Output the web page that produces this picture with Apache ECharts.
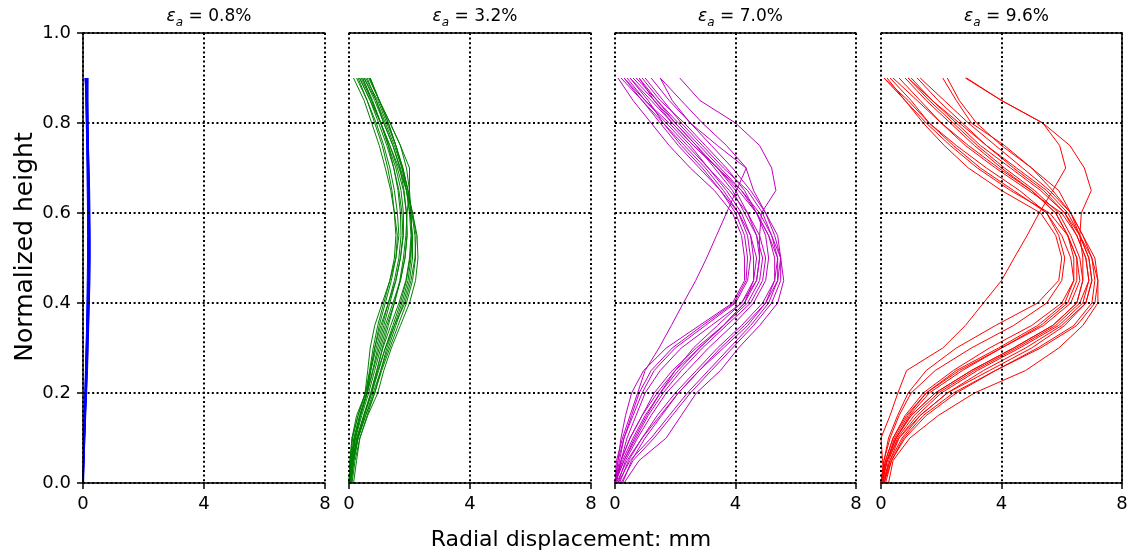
<!DOCTYPE html>
<html>
<head>
<meta charset="utf-8">
<script src="https://cdn.jsdelivr.net/npm/echarts@6/dist/echarts.min.js"></script>
<style>
html,body{margin:0;padding:0;background:#fff;}
#chart{width:1133px;height:557px;}
</style>
</head>
<body>
<div id="chart"></div>
<script>
// Normalized heights at which each displacement profile is sampled
const heights = [0,0.05,0.1,0.15,0.2,0.25,0.3,0.35,0.4,0.45,0.5,0.55,0.6,0.65,0.7,0.75,0.8,0.85,0.9];

const panelStrains = ['0.8%','3.2%','7.0%','9.6%'];
const xTickValues = [0,4,8];
const yTickValues = [0,0.2,0.4,0.6,0.8,1.0];

// Radial displacement (mm) profiles, one row per curve, values at each height
const curves08 = [
  [0,0.02,0.05,0.08,0.1,0.12,0.14,0.16,0.18,0.19,0.2,0.2,0.19,0.18,0.17,0.16,0.14,0.13,0.12],
  [0,0.01,0.03,0.05,0.07,0.09,0.11,0.13,0.15,0.17,0.18,0.18,0.17,0.16,0.15,0.13,0.11,0.1,0.09],
  [0,0.03,0.06,0.09,0.12,0.15,0.17,0.19,0.21,0.23,0.24,0.24,0.23,0.22,0.2,0.18,0.16,0.15,0.14],
  [0,0.02,0.04,0.06,0.08,0.1,0.12,0.14,0.16,0.17,0.18,0.19,0.19,0.18,0.16,0.14,0.12,0.1,0.08],
  [0.02,0.04,0.06,0.08,0.1,0.12,0.14,0.16,0.18,0.2,0.21,0.21,0.2,0.19,0.18,0.17,0.16,0.16,0.15],
  [0,0.01,0.02,0.04,0.06,0.08,0.1,0.12,0.13,0.14,0.15,0.15,0.15,0.14,0.13,0.12,0.11,0.1,0.1],
  [0,0.03,0.05,0.08,0.11,0.14,0.16,0.18,0.2,0.21,0.22,0.22,0.21,0.2,0.19,0.18,0.17,0.16,0.17],
  [0,0.02,0.04,0.07,0.09,0.11,0.13,0.15,0.17,0.19,0.2,0.21,0.21,0.2,0.19,0.17,0.15,0.13,0.11],
  [0.01,0.03,0.05,0.07,0.09,0.11,0.13,0.15,0.17,0.18,0.19,0.2,0.2,0.19,0.18,0.16,0.14,0.12,0.06],
  [0,0.02,0.03,0.05,0.07,0.09,0.11,0.12,0.14,0.16,0.17,0.17,0.17,0.16,0.15,0.14,0.12,0.11,0.1]
];

const curves32 = [
  [0,0.08,0.2,0.38,0.6,0.8,1.0,1.2,1.45,1.7,1.85,1.92,1.9,1.8,1.6,1.35,1.05,0.75,0.45],
  [0.05,0.15,0.3,0.55,0.8,1.05,1.3,1.55,1.8,2.0,2.1,2.1,2.02,1.9,1.7,1.45,1.15,0.9,0.6],
  [0,0.05,0.12,0.3,0.53,0.62,0.7,0.85,1.1,1.35,1.55,1.65,1.6,1.5,1.35,1.15,0.9,0.6,0.3],
  [0.1,0.2,0.36,0.62,0.95,1.15,1.4,1.7,2.0,2.2,2.28,2.25,2.1,1.9,1.65,1.35,1.05,0.7,0.35],
  [0,0.04,0.1,0.25,0.55,0.7,0.85,1.0,1.2,1.4,1.55,1.6,1.5,1.38,1.2,1.0,0.75,0.5,0.15],
  [0.02,0.12,0.28,0.5,0.75,0.95,1.2,1.5,1.85,2.05,2.18,2.22,2.1,1.95,1.75,1.5,1.2,0.9,0.5],
  [0,0.08,0.2,0.38,0.6,0.78,0.95,1.15,1.35,1.55,1.7,1.78,1.75,1.65,1.48,1.25,0.98,0.7,0.35],
  [0.15,0.25,0.36,0.6,0.85,1.05,1.25,1.5,1.75,1.95,2.05,2.08,2.05,2.0,1.9,1.7,1.36,1.0,0.65],
  [0,0.06,0.16,0.35,0.58,0.72,0.85,1.05,1.3,1.55,1.7,1.8,1.8,1.72,1.55,1.3,1.05,0.75,0.4],
  [0.03,0.12,0.26,0.5,0.75,0.98,1.2,1.45,1.7,1.9,2.02,2.08,2.05,1.95,1.78,1.55,1.3,1.0,0.7],
  [0,0.03,0.1,0.3,0.55,0.68,0.8,0.95,1.15,1.35,1.5,1.55,1.5,1.42,1.28,1.1,0.85,0.6,0.25],
  [0.05,0.16,0.3,0.55,0.85,1.08,1.35,1.62,1.9,2.1,2.2,2.18,2.08,1.95,1.78,1.55,1.25,0.95,0.55],
  [0,0.1,0.22,0.42,0.65,0.85,1.05,1.25,1.5,1.7,1.85,1.92,1.9,1.82,1.68,1.45,1.15,0.85,0.5],
  [0.02,0.07,0.18,0.36,0.6,0.72,0.9,1.1,1.3,1.5,1.65,1.72,1.7,1.62,1.48,1.3,1.05,0.78,0.45],
  [0,0.12,0.26,0.48,0.72,0.92,1.12,1.38,1.65,1.88,2.0,2.05,2.0,1.9,1.75,1.55,1.3,1.0,0.68],
  [0.08,0.16,0.3,0.5,0.72,0.92,1.1,1.3,1.5,1.68,1.8,1.88,1.92,2.0,2.0,1.7,1.36,1.0,0.7]
];

const curves70 = [
  [0,0.1,0.2,0.35,0.55,0.95,1.7,2.8,3.9,4.3,4.3,4.2,3.9,3.3,2.5,1.8,1.2,0.6,0.1],
  [0.05,0.2,0.4,0.7,1.0,1.5,2.2,3.2,4.2,4.6,4.7,4.5,4.1,3.5,2.8,2.1,1.5,0.9,0.3],
  [0.3,0.8,1.7,2.2,2.7,3.5,4.1,4.8,5.4,5.6,5.5,5.2,4.9,4.4,3.6,2.9,2.2,1.6,1.0],
  [0.1,0.5,1.2,1.8,2.4,3.1,3.8,4.5,5.1,5.4,5.4,5.1,4.7,4.2,3.5,2.8,2.1,1.4,0.8],
  [0,0.3,0.7,1.1,1.6,2.2,2.9,3.7,4.5,4.9,5.0,4.8,4.4,3.8,3.1,2.4,1.7,1.0,0.4],
  [0.15,0.45,0.9,1.4,2.0,2.7,3.4,4.2,4.9,5.3,5.3,5.1,4.7,4.1,3.4,2.6,1.9,1.2,0.5],
  [0,0.2,0.5,0.9,1.3,1.9,2.7,3.6,4.4,4.8,4.9,4.7,4.3,3.9,3.3,2.7,2.0,1.3,0.6],
  [0.2,0.6,1.3,1.9,2.5,3.2,3.9,4.6,5.2,5.5,5.5,5.3,5.0,4.5,3.9,3.2,2.5,1.8,1.2],
  [0,0.15,0.3,0.6,0.9,1.3,2.0,3.0,4.0,4.4,4.5,4.4,4.1,3.6,3.0,2.3,1.6,0.9,0.2],
  [0.1,0.35,0.75,1.2,1.7,2.4,3.1,3.9,4.6,5.0,5.1,5.0,4.7,4.3,3.7,3.0,2.3,1.5,0.9],
  [0,0.25,0.6,1.0,1.5,2.0,2.6,3.4,4.2,4.7,4.8,4.7,4.4,4.0,3.4,2.7,2.0,1.4,0.7],
  [0.25,0.55,1.0,1.55,2.1,2.8,3.6,4.4,5.0,5.3,5.4,5.2,4.8,4.2,3.4,2.6,1.9,1.3,0.8],
  [0,0.1,0.3,0.55,0.8,1.2,1.9,2.9,3.95,4.35,4.4,4.3,4.0,3.5,2.9,2.2,1.6,1.1,0.5],
  [0.05,0.4,0.9,1.5,2.1,2.8,3.5,4.3,5.0,5.4,5.5,5.4,5.0,4.6,4.35,3.4,2.5,1.9,1.5],
  [0,0.3,0.65,1.05,1.5,2.1,2.8,3.6,4.3,4.6,4.6,4.5,4.2,3.7,3.1,2.5,1.8,1.0,0.3],
  [0,0.2,0.5,0.9,1.4,2.0,2.8,3.6,4.3,4.7,4.8,4.8,4.86,5.34,5.2,4.8,4.0,2.82,2.15],
  [0,0.05,0.25,0.5,0.75,1.0,1.46,1.87,2.27,2.68,3.04,3.37,3.7,4.03,4.36,3.7,2.9,2.2,1.5]
];

const curves96 = [
  [0,0.15,0.4,0.8,1.4,2.4,3.6,5.0,6.0,6.4,6.4,6.2,5.8,5.0,3.9,2.9,2.0,1.2,0.4],
  [0.1,0.3,0.7,1.3,2.2,3.4,4.8,6.0,6.8,7.0,6.9,6.6,6.2,5.5,4.5,3.5,2.6,1.7,0.9],
  [0,0.1,0.3,0.6,1.0,1.8,3.0,4.4,5.5,6.0,6.1,5.9,5.5,4.6,3.5,2.5,1.6,0.9,0.1],
  [0.25,0.4,0.96,1.9,3.1,4.8,5.9,6.7,7.2,7.2,7.0,6.7,6.3,5.6,4.7,3.8,2.9,2.1,1.3],
  [0,0.2,0.5,0.95,1.6,2.7,4.0,5.4,6.3,6.6,6.5,6.2,5.8,5.0,4.0,3.1,2.3,1.5,0.8],
  [0.1,0.35,0.8,1.5,2.5,3.8,5.2,6.4,7.0,7.1,7.0,6.6,6.1,5.3,4.3,3.3,2.5,1.7,1.0],
  [0,0.2,0.45,0.9,1.5,2.5,3.9,5.2,6.1,6.4,6.3,6.0,5.5,4.4,3.3,2.4,1.6,1.0,0.3],
  [0.05,0.3,0.6,1.2,2.0,3.2,4.6,5.9,6.7,6.9,6.8,6.5,6.1,5.4,4.4,3.5,2.7,1.9,1.2],
  [0,0.1,0.25,0.55,0.9,1.5,2.5,3.8,5.2,5.9,6.0,5.8,5.3,4.0,2.9,2.1,1.4,0.8,0.2],
  [0.15,0.35,0.75,1.4,2.4,3.8,5.3,6.5,7.1,7.2,7.1,6.7,6.3,5.7,5.0,4.0,3.17,2.6,2.2],
  [0,0.2,0.5,1.0,1.8,3.0,4.4,5.7,6.5,6.7,6.6,6.3,5.9,5.1,4.1,3.2,2.4,1.6,0.9],
  [0.1,0.25,0.55,1.1,1.9,3.1,4.5,5.8,6.6,6.9,6.8,6.5,6.0,4.9,3.8,2.8,2.0,1.3,0.6],
  [0,0.15,0.4,0.85,1.5,2.6,4.0,5.3,6.2,6.5,6.5,6.2,5.6,4.3,3.2,2.3,1.5,0.8,0.1],
  [0.05,0.2,0.6,1.3,2.2,3.6,5.0,6.1,6.8,7.0,6.9,6.6,6.3,5.9,5.0,4.1,3.0,2.5,2.05],
  [0.1,0.05,0,0.3,0.56,0.85,2.05,2.8,3.4,4.0,4.42,4.85,5.25,5.7,6.13,5.93,5.37,4.0,2.84],
  [0.05,0.2,0.5,1.0,1.8,3.0,4.4,5.7,6.5,6.7,6.7,6.6,6.65,6.98,6.75,6.27,5.37,4.0,2.8]
];

const panelCurves = [curves08, curves32, curves70, curves96];
const lineColors = ['#0000ff', '#008000', '#bf00bf', '#ff0000'];

const FONT = 'DejaVu Sans';
const gridLeft = [83, 349, 615, 881];
const gridWidth = [242, 242, 241, 241];
const dotted = { color: '#000', width: 2, type: [2, 2.6] };
const solid = { color: '#000', width: 1.5 };

const grids = [], xAxes = [], yAxes = [], series = [], titles = [];

for (let p = 0; p < 4; p++) {
  grids.push({ left: gridLeft[p], width: gridWidth[p], top: 33, height: 450, containLabel: false });
  xAxes.push({
    type: 'value', gridIndex: p, min: 0, max: 8, interval: 4, position: 'bottom',
    axisLine: { show: true, onZero: false, lineStyle: solid },
    axisTick: { show: true, inside: false, length: 6, lineStyle: solid },
    axisLabel: { show: true, margin: 12, color: '#000', fontSize: 18, fontFamily: FONT,
      formatter: v => xTickValues.includes(v) ? String(v) : '' },
    splitLine: { show: true, lineStyle: dotted },
    z: 3
  });
  xAxes.push({
    type: 'value', gridIndex: p, min: 0, max: 8, interval: 4, position: 'top',
    axisLine: { show: true, onZero: false, lineStyle: solid },
    axisTick: { show: false }, axisLabel: { show: false }, splitLine: { show: false },
    z: 3
  });
  yAxes.push({
    type: 'value', gridIndex: p, min: 0, max: 1, interval: 0.2, position: 'left',
    axisLine: { show: p === 0, onZero: false, lineStyle: solid },
    axisTick: { show: p === 0, inside: false, length: 6, lineStyle: solid },
    axisLabel: { show: p === 0, margin: 12, color: '#000', fontSize: 18, fontFamily: FONT,
      formatter: v => v.toFixed(1) },
    splitLine: { show: true, lineStyle: dotted },
    z: 3
  });
  titles.push({
    text: '{e|ε}{s|a}{n| = ' + panelStrains[p] + '}',
    left: gridLeft[p] + gridWidth[p] / 2, top: 0, textAlign: 'center',
    textStyle: {
      fontWeight: 'normal',
      rich: {
        e: { fontFamily: FONT, fontStyle: 'italic', fontWeight: 'normal', fontSize: 17, color: '#000', lineHeight: 24 },
        s: { fontFamily: FONT, fontStyle: 'italic', fontWeight: 'normal', fontSize: 12, color: '#000', verticalAlign: 'bottom', lineHeight: 13 },
        n: { fontFamily: FONT, fontWeight: 'normal', fontSize: 17, color: '#000', lineHeight: 24 }
      }
    }
  });
  panelCurves[p].forEach(curve => {
    series.push({
      type: 'line', xAxisIndex: 2 * p, yAxisIndex: p,
      data: heights.map((h, i) => [curve[i], h]),
      showSymbol: false, symbol: 'none', silent: true, animation: false,
      lineStyle: { color: lineColors[p], width: 1 }, z: 2
    });
  });
}
yAxes.push({
  type: 'value', gridIndex: 3, min: 0, max: 1, interval: 0.2, position: 'right',
  axisLine: { show: true, onZero: false, lineStyle: solid },
  axisTick: { show: false }, axisLabel: { show: false }, splitLine: { show: false }, z: 3
});

titles.push({
  text: 'Radial displacement: mm', left: 566, top: 524, textAlign: 'center',
  textStyle: { color: '#000', fontSize: 22, fontWeight: 'normal', fontFamily: FONT }
});

const chart = echarts.init(document.getElementById('chart'), null, { renderer: 'canvas' });
chart.setOption({
  backgroundColor: '#fff',
  animation: false,
  title: titles,
  grid: grids,
  xAxis: xAxes,
  yAxis: yAxes,
  series: series,
  graphic: [{
    type: 'text', x: 25, y: 247, rotation: Math.PI / 2,
    style: { text: 'Normalized height', fill: '#000', fontSize: 25, fontFamily: FONT,
      align: 'center', verticalAlign: 'middle' }
  }]
});
</script>
</body>
</html>
